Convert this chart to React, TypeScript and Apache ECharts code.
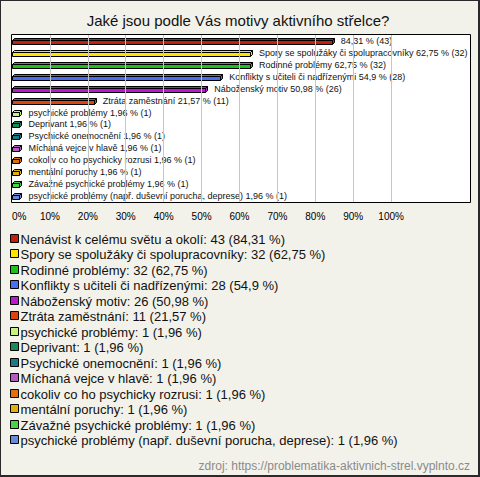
import React, { useEffect, useRef } from "react";
import * as echarts from "echarts";

const titleText = "Jaké jsou podle Vás motivy aktivního střelce?";
const sourceText = "zdroj: https://problematika-aktivnich-strel.vyplnto.cz";

const categories = [
  "Nenávist k celému světu a okolí",
  "Spory se spolužáky či spolupracovníky",
  "Rodinné problémy",
  "Konflikty s učiteli či nadřízenými",
  "Náboženský motiv",
  "Ztráta zaměstnání",
  "psychické problémy",
  "Deprivant",
  "Psychické onemocnění",
  "Míchaná vejce v hlavě",
  "cokoliv co ho psychicky rozrusi",
  "mentální poruchy",
  "Závažné psychické problémy",
  "psychické problémy (např. duševní porucha, deprese)",
];
const counts = [43, 32, 32, 28, 26, 11, 1, 1, 1, 1, 1, 1, 1, 1];
const percents = [84.31, 62.75, 62.75, 54.9, 50.98, 21.57, 1.96, 1.96, 1.96, 1.96, 1.96, 1.96, 1.96, 1.96];
const colors = [
  "#c41e0c",
  "#ffe400",
  "#1ec01e",
  "#4a6ef0",
  "#bb18d0",
  "#e0440e",
  "#c8f27e",
  "#178a5c",
  "#1c7a88",
  "#b35cc4",
  "#e0700e",
  "#e0b00e",
  "#44d444",
  "#6a8ad8",
];
const tickValues = [0, 10, 20, 30, 40, 50, 60, 70, 80, 90, 100];

const FONT = "'Liberation Sans', Arial, sans-serif";
const fmt = (p: number) => String(p).replace(".", ",");

export default function App() {
  const ref = useRef<HTMLDivElement>(null);
  useEffect(() => {
    if (!ref.current) return;
    const chart = echarts.init(ref.current, undefined, { renderer: "svg" });

    const legendElements: any[] = [];
    categories.forEach((name, i) => {
      const cy = Math.round(238.5 + i * 15.5);
      legendElements.push({
        type: "rect",
        shape: { x: 10.5, y: cy - 4.5, width: 8, height: 8 },
        style: { fill: colors[i], stroke: "#000", lineWidth: 1 },
        z: 5,
      });
      legendElements.push({
        type: "text",
        x: 20.5,
        y: cy,
        style: {
          text: `${name}: ${counts[i]} (${fmt(percents[i])} %)`,
          font: `13px ${FONT}`,
          fill: "#111",
          textVerticalAlign: "middle",
          textAlign: "left",
        },
        z: 5,
      });
    });

    const option: any = {
      animation: false,
      grid: { left: 12, top: 35, width: 458, height: 167, show: false },
      xAxis: {
        type: "value",
        min: 0,
        max: 120.8,
        interval: 10,
        axisLine: { show: false },
        axisTick: { show: false },
        splitLine: { show: false },
        axisLabel: {
          margin: 9,
          fontSize: 10,
          fontFamily: FONT,
          color: "#000",
          alignMinLabel: "left",
          formatter: (v: number) => (v <= 100 ? `${v}%` : ""),
        },
      },
      yAxis: {
        type: "category",
        inverse: true,
        data: categories,
        show: false,
      },
      graphic: {
        elements: [
          {
            type: "rect",
            shape: { x: 1, y: 1, width: 477, height: 474 },
            style: { fill: "#f3f2ea" },
            z: -10,
          },
          {
            type: "rect",
            shape: { x: 11.5, y: 34.5, width: 459, height: 168 },
            style: { fill: "#fff", stroke: "#000", lineWidth: 1 },
            z: -5,
          },
          {
            type: "text",
            x: 238,
            y: 20,
            style: {
              text: titleText,
              font: `15px ${FONT}`,
              fill: "#111",
              textAlign: "center",
              textVerticalAlign: "middle",
            },
            z: 5,
          },
          ...legendElements,
          {
            type: "text",
            x: 470,
            y: 466,
            style: {
              text: sourceText,
              font: `12px ${FONT}`,
              fill: "#8a8a8a",
              textAlign: "right",
              textVerticalAlign: "middle",
            },
            z: 5,
          },
        ],
      },
      series: [
        {
          type: "line",
          data: [],
          z: 1,
          silent: true,
          markLine: {
            silent: true,
            symbol: "none",
            label: { show: false },
            lineStyle: { color: "#c6c6c6", width: 1, type: "solid" },
            data: tickValues.filter((t) => t > 0).map((t) => ({ xAxis: t })),
          },
        },
        {
          type: "custom",
          z: 3,
          clip: false,
          encode: { x: 0, y: 1 },
          data: percents.map((p, i) => [p, i, counts[i]]),
          renderItem: (params: any, api: any) => {
            const v = api.value(0);
            const i = api.value(1);
            const p0 = api.coord([0, i]);
            const p1 = api.coord([v, i]);
            const cy = Math.round(p0[1]);
            const xs = Math.round(p0[0]) + 0.5;
            const xe = Math.round(p1[0]) + 0.5;
            const yt = cy - 0.5;
            const yb = yt + 4;
            const d = 2;
            const color = colors[i];
            const st = { fill: color, stroke: "#000", lineWidth: 1 };
            const label =
              i === 0
                ? `${fmt(v)} % (${counts[i]})`
                : `${categories[i]} ${fmt(v)} % (${counts[i]})`;
            return {
              type: "group",
              children: [
                {
                  type: "polygon",
                  shape: { points: [[xs, yt], [xs + d, yt - d], [xe + d, yt - d], [xe, yt]] },
                  style: st,
                },
                {
                  type: "polygon",
                  shape: { points: [[xe, yt], [xe + d, yt - d], [xe + d, yb - d], [xe, yb]] },
                  style: st,
                },
                {
                  type: "rect",
                  shape: { x: xs, y: yt, width: xe - xs, height: yb - yt },
                  style: st,
                },
                {
                  type: "text",
                  x: p1[0] + 9,
                  y: cy,
                  style: {
                    text: label,
                    font: `9px ${FONT}`,
                    fill: "#111",
                    textVerticalAlign: "middle",
                    textAlign: "left",
                  },
                },
              ],
            };
          },
        },
      ],
    };
    chart.setOption(option);
    return () => chart.dispose();
  }, []);
  return (
    <div
      ref={ref}
      style={{ position: "absolute", left: 0, top: 0, width: 480, height: 477, background: "#2a2a2a" }}
    />
  );
}
